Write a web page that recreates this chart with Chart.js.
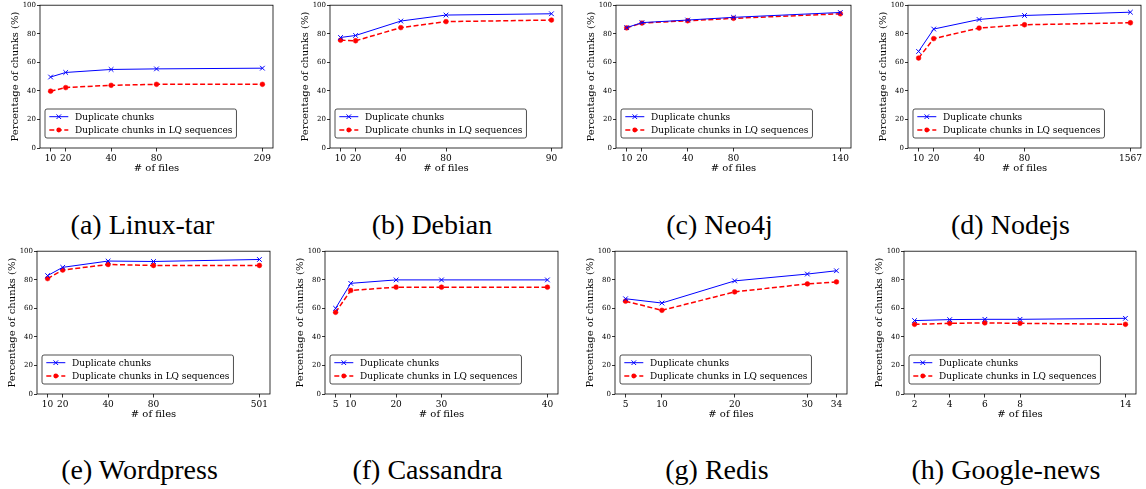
<!DOCTYPE html>
<html>
<head>
<meta charset="utf-8">
<script src="https://cdn.jsdelivr.net/npm/chart.js@4/dist/chart.umd.min.js"></script>
<style>
    body { margin: 0; background: #fff; width: 1146px; height: 489px; position: relative; overflow: hidden; }
    canvas { position: absolute; }
    .cap { position: absolute; font-family: "Liberation Serif", serif; font-size: 28px; line-height: 28px; color: #000; white-space: nowrap; transform: translateX(-50%); }
</style>
</head>
<body>
<script>
// Series names
const dupLabel = 'Duplicate chunks';
const lqLabel = 'Duplicate chunks in LQ sequences';

// Plot positions used for the unevenly spaced categories (a-f)
const spacedPos = [10, 20, 50, 80, 150];

// (a) Linux-tar
const linuxFiles = ['10', '20', '40', '80', '209'];
const linuxDup = [49.7, 52.9, 55.0, 55.4, 55.9];
const linuxLQ = [39.8, 42.3, 43.9, 44.6, 44.6];

// (b) Debian
const debianFiles = ['10', '20', '40', '80', '90'];
const debianDup = [77.4, 78.8, 88.9, 93.1, 94.0];
const debianLQ = [75.5, 75.1, 84.3, 88.5, 89.6];

// (c) Neo4j
const neoFiles = ['10', '20', '40', '80', '140'];
const neoDup = [84.3, 87.8, 89.6, 91.5, 94.9];
const neoLQ = [84.1, 87.5, 89.1, 90.8, 94.0];

// (d) Nodejs
const nodeFiles = ['10', '20', '40', '80', '1567'];
const nodeDup = [67.6, 83.3, 90.0, 92.8, 95.1];
const nodeLQ = [63.0, 76.6, 84.0, 86.3, 87.7];

// (e) Wordpress
const wpFiles = ['10', '20', '40', '80', '501'];
const wpDup = [82.9, 88.7, 93.1, 92.8, 94.2];
const wpLQ = [80.8, 86.8, 90.7, 90.0, 90.0];

// (f) Cassandra
const cassFiles = ['5', '10', '20', '30', '40'];
const cassDup = [60.0, 77.5, 79.9, 79.9, 79.9];
const cassLQ = [57.2, 72.5, 74.8, 74.8, 74.8];

// (g) Redis (linear x)
const redisFiles = [5, 10, 20, 30, 34];
const redisDup = [66.7, 63.7, 79.2, 84.0, 86.3];
const redisLQ = [65.0, 58.6, 71.5, 77.1, 78.5];

// (h) Google-news (linear x)
const newsFiles = [2, 4, 6, 8, 14];
const newsDup = [51.4, 52.1, 52.3, 52.3, 53.0];
const newsLQ = [48.8, 49.5, 49.8, 49.5, 48.8];

const yTicks = [0, 20, 40, 60, 80, 100];

// panels: caption, x positions, x tick labels, series
const panels = [
    { caption: '(a) Linux-tar', pos: spacedPos, labels: linuxFiles, dup: linuxDup, lq: linuxLQ },
    { caption: '(b) Debian', pos: spacedPos, labels: debianFiles, dup: debianDup, lq: debianLQ },
    { caption: '(c) Neo4j', pos: spacedPos, labels: neoFiles, dup: neoDup, lq: neoLQ },
    { caption: '(d) Nodejs', pos: spacedPos, labels: nodeFiles, dup: nodeDup, lq: nodeLQ },
    { caption: '(e) Wordpress', pos: spacedPos, labels: wpFiles, dup: wpDup, lq: wpLQ },
    { caption: '(f) Cassandra', pos: spacedPos, labels: cassFiles, dup: cassDup, lq: cassLQ },
    { caption: '(g) Redis', pos: redisFiles, labels: redisFiles.map(String), dup: redisDup, lq: redisLQ },
    { caption: '(h) Google-news', pos: newsFiles, labels: newsFiles.map(String), dup: newsDup, lq: newsLQ }
];

// plot area boxes on the page [left, top, right, bottom]
const boxes = [
    [40, 4, 275, 148], [330, 4, 564, 148], [616, 4, 853, 148], [908, 4, 1143, 148],
    [37, 250, 272, 394], [325, 250, 560, 394], [615, 250, 849, 394], [904, 250, 1138, 394]
];
const capY = [225, 470];

const AXIS_W = 50, AXIS_H = 40, PAD_T = 4, PAD_R = 3;
const serif = '"DejaVu Serif", "Liberation Serif", serif';

// frame round the plot area + matplotlib-like legend box
const framePlugin = {
    id: 'frame',
    afterDatasetsDraw(chart) {
        const ctx = chart.ctx;
        const a = chart.chartArea;
        ctx.save();
        ctx.strokeStyle = '#000';
        ctx.lineWidth = 0.8;
        ctx.strokeRect(a.left, a.top, a.right - a.left, a.bottom - a.top);

        ctx.font = '9px ' + serif;
        const w = 30 + ctx.measureText(lqLabel).width + 4;
        const h = 29;
        const x = a.left + 5;
        const y = a.bottom - 10 - h;
        ctx.beginPath();
        ctx.roundRect(x, y, w, h, 2);
        ctx.fillStyle = '#fff';
        ctx.fill();
        ctx.strokeStyle = '#222';
        ctx.lineWidth = 0.8;
        ctx.stroke();

        const rows = [
            { y: y + 7.7, color: '#0000ff', dash: [], lw: 1, text: dupLabel, marker: 'x' },
            { y: y + 21, color: '#ff0000', dash: [5, 2.5], lw: 1.5, text: lqLabel, marker: 'o' }
        ];
        rows.forEach(r => {
            ctx.strokeStyle = r.color;
            ctx.lineWidth = r.lw;
            ctx.setLineDash(r.dash);
            ctx.beginPath();
            ctx.moveTo(x + 4.3, r.y);
            ctx.lineTo(x + 23.3, r.y);
            ctx.stroke();
            ctx.setLineDash([]);
            const cx = x + 13.8;
            if (r.marker === 'x') {
                ctx.lineWidth = 1;
                ctx.beginPath();
                ctx.moveTo(cx - 2.3, r.y - 2.3); ctx.lineTo(cx + 2.3, r.y + 2.3);
                ctx.moveTo(cx - 2.3, r.y + 2.3); ctx.lineTo(cx + 2.3, r.y - 2.3);
                ctx.stroke();
            } else {
                ctx.fillStyle = r.color;
                ctx.beginPath();
                ctx.arc(cx, r.y, 2.4, 0, Math.PI * 2);
                ctx.fill();
            }
            ctx.fillStyle = '#000';
            ctx.textBaseline = 'middle';
            ctx.textAlign = 'left';
            ctx.fillText(r.text, x + 30, r.y + 0.5);
        });
        ctx.restore();
    }
};

panels.forEach((p, i) => {
    const [L, T, R, B] = boxes[i];
    const canvas = document.createElement('canvas');
    canvas.width = (R - L) + AXIS_W + PAD_R;
    canvas.height = (B - T) + PAD_T + AXIS_H;
    canvas.style.left = (L - AXIS_W) + 'px';
    canvas.style.top = (T - PAD_T) + 'px';
    document.body.appendChild(canvas);

    const cap = document.createElement('div');
    cap.className = 'cap';
    cap.textContent = p.caption;
    cap.style.left = ((L + R) / 2 - 15) + 'px';
    cap.style.top = (capY[i < 4 ? 0 : 1] - 14) + 'px';
    document.body.appendChild(cap);

    const lo = Math.min(...p.pos), hi = Math.max(...p.pos);
    const margin = (hi - lo) * 0.05;

    new Chart(canvas, {
        type: 'line',
        data: {
            datasets: [{
                label: dupLabel,
                data: p.pos.map((x, k) => ({ x: x, y: p.dup[k] })),
                borderColor: '#0000ff',
                backgroundColor: '#0000ff',
                borderWidth: 1,
                pointStyle: 'crossRot',
                pointRadius: 3.3,
                pointBorderWidth: 1,
                pointBorderColor: '#0000ff',
                tension: 0
            }, {
                label: lqLabel,
                data: p.pos.map((x, k) => ({ x: x, y: p.lq[k] })),
                borderColor: '#ff0000',
                backgroundColor: '#ff0000',
                borderWidth: 1.5,
                borderDash: [5, 2.5],
                pointStyle: 'circle',
                pointRadius: 2.4,
                pointBorderWidth: 0.5,
                tension: 0
            }]
        },
        options: {
            responsive: false,
            animation: false,
            devicePixelRatio: 1,
            layout: { padding: { top: PAD_T, right: PAD_R, left: 0, bottom: 0 } },
            plugins: { legend: { display: false }, tooltip: { enabled: false } },
            scales: {
                x: {
                    type: 'linear',
                    min: lo - margin,
                    max: hi + margin,
                    afterFit: s => { s.height = AXIS_H; },
                    afterBuildTicks: s => { s.ticks = p.pos.map(v => ({ value: v })); },
                    grid: { display: true, drawOnChartArea: false, drawTicks: true, tickLength: 3.5, color: '#000', lineWidth: 0.8 },
                    border: { display: false },
                    ticks: {
                        autoSkip: false, maxRotation: 0, padding: 1.5, color: '#000',
                        font: { family: serif, size: 9 },
                        callback: (v, k) => p.labels[k]
                    },
                    title: { display: true, text: '# of files', color: '#000', font: { family: serif, size: 10 }, padding: { top: 0, bottom: 14 } }
                },
                y: {
                    min: 0,
                    max: 100,
                    afterFit: s => { s.width = AXIS_W; },
                    afterBuildTicks: s => { s.ticks = yTicks.map(v => ({ value: v })); },
                    grid: { display: true, drawOnChartArea: false, drawTicks: true, tickLength: 3, color: '#000', lineWidth: 0.8 },
                    border: { display: false },
                    ticks: { padding: 1, color: '#000', font: { family: serif, size: 7 } },
                    title: { display: true, text: 'Percentage of chunks (%)', color: '#000', font: { family: serif, size: 10 }, padding: { top: 19, bottom: 0 } }
                }
            }
        },
        plugins: [framePlugin]
    });
});
</script>
</body>
</html>
